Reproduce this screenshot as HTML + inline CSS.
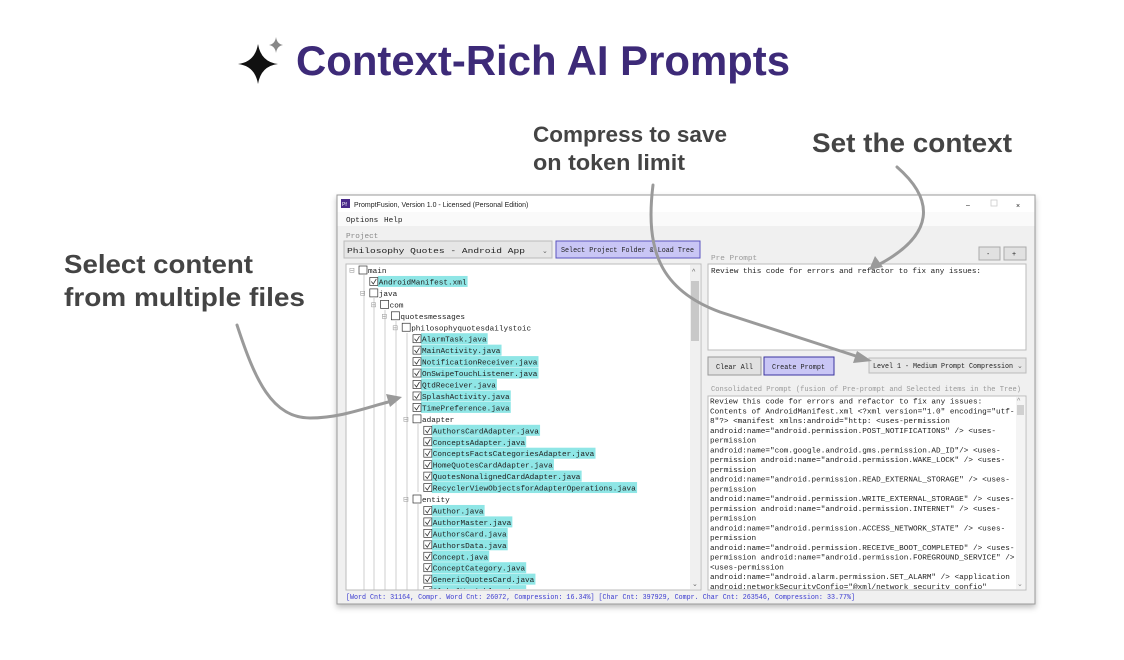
<!DOCTYPE html>
<html><head><meta charset="utf-8"><style>
html,body{margin:0;padding:0;background:#fff;width:1124px;height:660px;overflow:hidden}
.m{font-family:"Liberation Mono",monospace;font-size:7.7px;fill:#222}
.ann{font-family:"Liberation Sans",sans-serif;font-weight:bold;fill:#444}
.ui{font-family:"Liberation Sans",sans-serif;font-size:7px;fill:#222}
</style></head><body>
<svg width="1124" height="660" viewBox="0 0 1124 660" xmlns="http://www.w3.org/2000/svg">
<defs><filter id="sh" x="-5%" y="-5%" width="110%" height="115%"><feDropShadow dx="0" dy="3" stdDeviation="3" flood-color="#000" flood-opacity="0.25"/></filter>
<clipPath id="cc"><rect x="709" y="397" width="306" height="192"/></clipPath>
<clipPath id="tc"><rect x="347" y="265" width="343" height="324"/></clipPath></defs>
<!-- title -->
<path d="M258,44 Q261,62 278,64 Q261,66 258,84 Q255,66 238,64 Q255,62 258,44Z" fill="#111"/>
<path d="M276,37 Q277,44 283,45 Q277,46 276,53 Q275,46 269,45 Q275,44 276,37Z" fill="#888"/>
<text x="296" y="75" class="ann" style="fill:#3d2a78;font-size:42px" textLength="494" lengthAdjust="spacingAndGlyphs">Context-Rich AI Prompts</text>
<!-- annotations -->
<text x="64" y="273" class="ann" font-size="26" textLength="189" lengthAdjust="spacingAndGlyphs">Select content</text>
<text x="64" y="306" class="ann" font-size="26" textLength="241" lengthAdjust="spacingAndGlyphs">from multiple files</text>
<text x="533" y="142" class="ann" font-size="22" textLength="194" lengthAdjust="spacingAndGlyphs">Compress to save</text>
<text x="533" y="170" class="ann" font-size="22" textLength="152" lengthAdjust="spacingAndGlyphs">on token limit</text>
<text x="812" y="152" class="ann" font-size="27" textLength="200" lengthAdjust="spacingAndGlyphs">Set the context</text>
<!-- window -->
<rect x="337" y="195" width="698" height="409" fill="#f0f0f0" stroke="#9a9a9a" filter="url(#sh)"/>
<rect x="337.5" y="195.5" width="697" height="17" fill="#fff"/>
<rect x="341" y="199" width="9" height="9" fill="#4a2a8a"/>
<text x="342" y="206" style="font-family:'Liberation Sans';font-size:5px;fill:#fff">Pf</text>
<text x="354" y="207" class="ui">PromptFusion, Version 1.0 - Licensed (Personal Edition)</text>
<text x="966" y="207" class="ui" font-size="9">–</text>
<rect x="991" y="200" width="6" height="6" fill="none" stroke="#ccc" stroke-width="0.8"/>
<text x="1016" y="208" class="ui" font-size="10">×</text>
<rect x="337.5" y="212" width="697" height="14" fill="#fafafa"/>
<text x="346" y="222" class="m" font-size="7">Options</text>
<text x="384" y="222" class="m" font-size="7">Help</text>
<text x="346" y="238" class="m" font-size="7" style="fill:#888">Project</text>
<rect x="344" y="241" width="208" height="17" fill="#e6e6e6" stroke="#bbb"/>
<text x="347" y="253" class="m" font-size="9.6" textLength="178" lengthAdjust="spacingAndGlyphs">Philosophy Quotes - Android App</text>
<text x="542" y="253" class="ui" font-size="8" style="fill:#666">⌄</text>
<rect x="556" y="241" width="144" height="17" fill="#c9c6f5" stroke="#5a54c0"/>
<text x="561" y="252" class="m" font-size="7" textLength="133" lengthAdjust="spacingAndGlyphs">Select Project Folder &amp; Load Tree</text>
<!-- tree -->
<rect x="346" y="264" width="355" height="326" fill="#fff" stroke="#bbb"/>
<rect x="690" y="265" width="10" height="324" fill="#f0f0f0"/>
<rect x="691" y="281" width="8" height="60" fill="#c8c8c8"/>
<text x="692" y="274" class="ui" font-size="6" style="fill:#666">^</text>
<text x="692" y="586" class="ui" font-size="6" style="fill:#666">⌄</text>
<g stroke="#bbb" stroke-width="0.7">
<line x1="364" y1="275" x2="364" y2="590"/><line x1="374" y1="298" x2="374" y2="590"/>
<line x1="385" y1="310" x2="385" y2="590"/><line x1="396" y1="321" x2="396" y2="590"/>
<line x1="407" y1="333" x2="407" y2="590"/><line x1="418" y1="424" x2="418" y2="492"/><line x1="418" y1="504" x2="418" y2="590"/>
</g>
<g id="tree" clip-path="url(#tc)"></g>
<!-- right pane -->
<text x="711" y="260" class="m" font-size="7" style="fill:#999">Pre Prompt</text>
<rect x="979" y="247" width="21" height="13" fill="#e1e1e1" stroke="#aaa"/><text x="987" y="256" class="ui">-</text>
<rect x="1004" y="247" width="22" height="13" fill="#e1e1e1" stroke="#aaa"/><text x="1012" y="256" class="ui">+</text>
<rect x="708" y="264" width="318" height="86" fill="#fff" stroke="#bbb"/>
<text x="711" y="273" class="m" textLength="270" lengthAdjust="spacingAndGlyphs">Review this code for errors and refactor to fix any issues:</text>
<rect x="708" y="357" width="53" height="18" fill="#e1e1e1" stroke="#999"/>
<text x="716" y="369" class="m" font-size="7" textLength="37" lengthAdjust="spacingAndGlyphs">Clear All</text>
<rect x="764" y="357" width="70" height="18" fill="#c9c6f5" stroke="#3a34a0"/>
<text x="772" y="369" class="m" font-size="7" textLength="53" lengthAdjust="spacingAndGlyphs">Create Prompt</text>
<rect x="869" y="358" width="157" height="15" fill="#e6e6e6" stroke="#bbb"/>
<text x="873" y="368" class="m" font-size="7" textLength="140" lengthAdjust="spacingAndGlyphs">Level 1 - Medium Prompt Compression</text>
<text x="1017" y="368" class="ui" style="fill:#666">⌄</text>
<text x="711" y="391" class="m" font-size="7" style="fill:#999" textLength="310" lengthAdjust="spacingAndGlyphs">Consolidated Prompt (fusion of Pre-prompt and Selected items in the Tree)</text>
<rect x="708" y="396" width="318" height="194" fill="#fff" stroke="#bbb"/>
<rect x="1016" y="397" width="9" height="192" fill="#f4f4f4"/>
<rect x="1017" y="405" width="7" height="10" fill="#d0d0d0"/>
<text x="1017" y="403" class="ui" font-size="6" style="fill:#888">^</text>
<text x="1017" y="586" class="ui" font-size="6" style="fill:#888">⌄</text>
<g class="m" id="cons" clip-path="url(#cc)"></g>
<text x="346" y="599" class="m" font-size="6.7" style="fill:#3a3ad0" textLength="509" lengthAdjust="spacingAndGlyphs">[Word Cnt: 31164, Compr. Word Cnt: 26072, Compression: 16.34%] [Char Cnt: 397929, Compr. Char Cnt: 263546, Compression: 33.77%]</text>
<!-- arrows -->
<g fill="none" stroke="#9a9a9a" stroke-width="3" stroke-linecap="round">
<path d="M237,325 C255,380 272,418 310,418 C340,418 365,408 392,401"/>
<path d="M653,185 C645,250 660,290 720,312 L862,358"/>
<path d="M897,167 C935,200 935,235 878,265"/>
</g>
<g fill="#9a9a9a">
<polygon points="402,397 386,394 390,407"/>
<polygon points="872,361 857,351 853,363"/>
<polygon points="869,270 875,256 883,267"/>
</g>
</svg>
<script>
var rows=[["main",0,0],["AndroidManifest.xml",1,1],["java",1,0],["com",2,0],["quotesmessages",3,0],["philosophyquotesdailystoic",4,0],
["AlarmTask.java",5,1],["MainActivity.java",5,1],["NotificationReceiver.java",5,1],["OnSwipeTouchListener.java",5,1],["QtdReceiver.java",5,1],["SplashActivity.java",5,1],["TimePreference.java",5,1],
["adapter",5,0],["AuthorsCardAdapter.java",6,1],["ConceptsAdapter.java",6,1],["ConceptsFactsCategoriesAdapter.java",6,1],["HomeQuotesCardAdapter.java",6,1],["QuotesNonalignedCardAdapter.java",6,1],["RecyclerViewObjectsforAdapterOperations.java",6,1],
["entity",5,0],["Author.java",6,1],["AuthorMaster.java",6,1],["AuthorsCard.java",6,1],["AuthorsData.java",6,1],["Concept.java",6,1],["ConceptCategory.java",6,1],["GenericQuotesCard.java",6,1],["GlobalVariables.java",6,1]];
var g=document.getElementById("tree"),h="";
rows.forEach(function(r,i){var y=270+i*11.45,bx=359+r[1]*10.8,tx=bx+9;
 if(r[2]){h+='<rect x="'+(tx-1)+'" y="'+(y-5.5)+'" width="'+(r[0].length*4.62+2)+'" height="11" fill="#8fe6e6"/>';}
 else{h+='<text x="'+(bx-10)+'" y="'+(y+2.5)+'" class="ui" font-size="7" style="fill:#999">⊟</text>';}
 h+='<rect x="'+bx+'" y="'+(y-4)+'" width="8" height="8" fill="#fff" stroke="#333" stroke-width="0.7"/>';
 if(r[2]) h+='<path d="M'+(bx+1.5)+','+y+' l2,2.5 l3,-5" fill="none" stroke="#333" stroke-width="0.8"/>';
 h+='<text x="'+tx+'" y="'+(y+3)+'" class="m">'+r[0]+'</text>';});
g.innerHTML=h;
var L=['Review this code for errors and refactor to fix any issues:','Contents of AndroidManifest.xml &lt;?xml version="1.0" encoding="utf-','8"?&gt; &lt;manifest xmlns:android="http: &lt;uses-permission','android:name="android.permission.POST_NOTIFICATIONS" /&gt; &lt;uses-','permission','android:name="com.google.android.gms.permission.AD_ID"/&gt; &lt;uses-','permission android:name="android.permission.WAKE_LOCK" /&gt; &lt;uses-','permission','android:name="android.permission.READ_EXTERNAL_STORAGE" /&gt; &lt;uses-','permission','android:name="android.permission.WRITE_EXTERNAL_STORAGE" /&gt; &lt;uses-','permission android:name="android.permission.INTERNET" /&gt; &lt;uses-','permission','android:name="android.permission.ACCESS_NETWORK_STATE" /&gt; &lt;uses-','permission','android:name="android.permission.RECEIVE_BOOT_COMPLETED" /&gt; &lt;uses-','permission android:name="android.permission.FOREGROUND_SERVICE" /&gt;','&lt;uses-permission','android:name="android.alarm.permission.SET_ALARM" /&gt; &lt;application','android:networkSecuritvConfio="@xml/network securitv confio"'];
var c="";L.forEach(function(t,i){c+='<text x="710" y="'+(403.5+i*9.75)+'">'+t+'</text>';});
document.getElementById("cons").innerHTML=c;
</script>
</body></html>
